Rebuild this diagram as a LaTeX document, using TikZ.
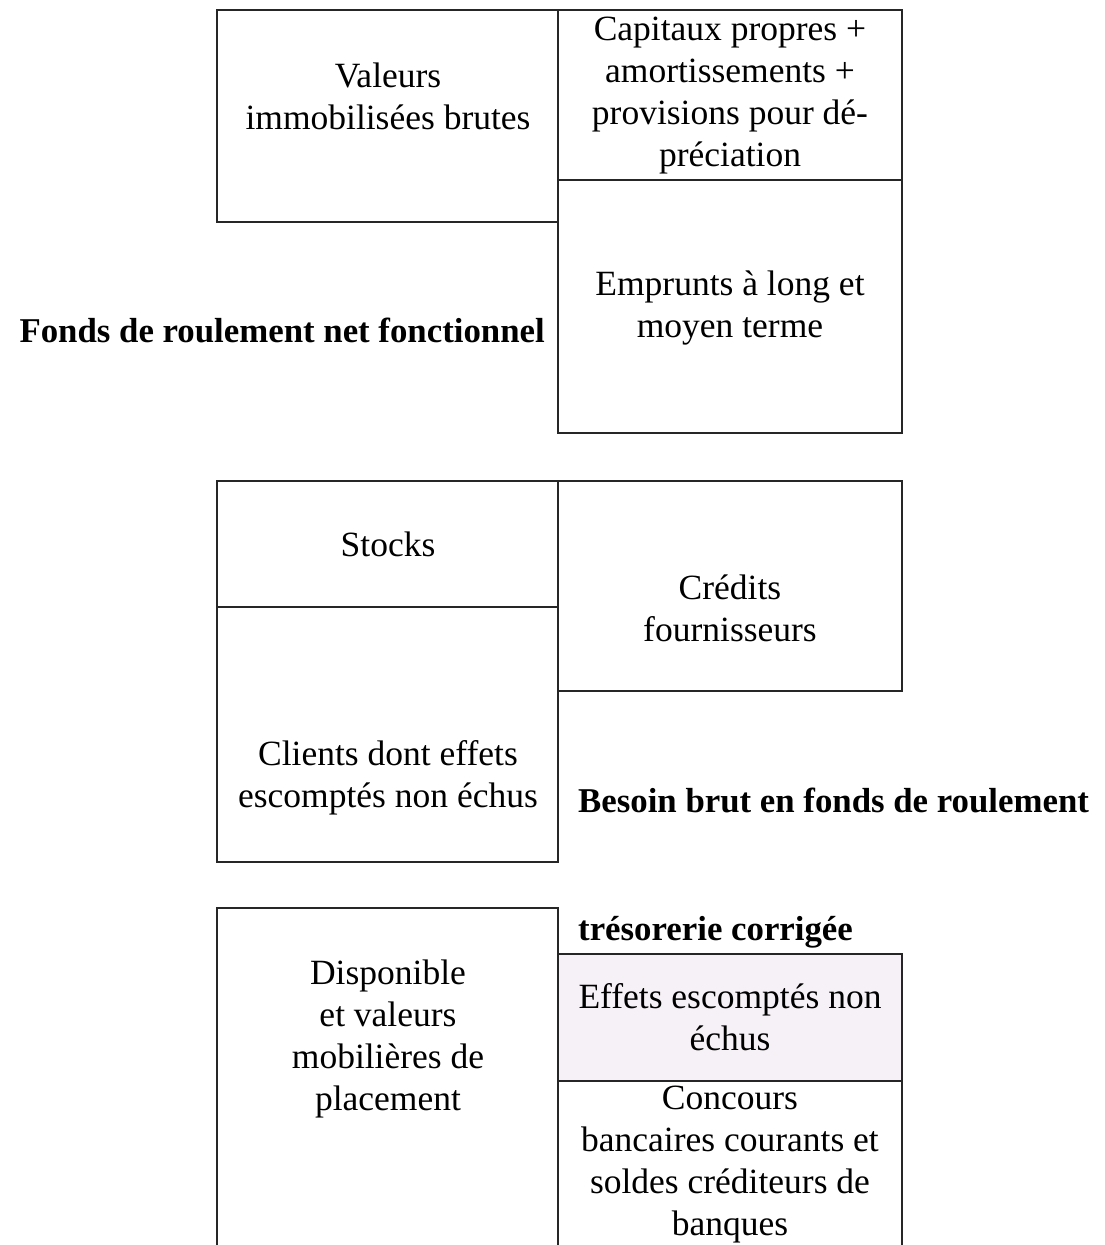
\documentclass[tikz,border=0pt]{standalone}
\usepackage{fontspec}
\setmainfont{Liberation Serif}
\usepackage{xcolor}
\usepackage{tikz}
\usetikzlibrary{positioning, calc}

\definecolor{ShadeFill}{HTML}{F6F1F6}

\begin{document}
\begin{tikzpicture}[x=1pt, y=-1pt,
				CellLine/.style={draw=black!85, line width=1.6pt},
				CellText/.style={align=center, inner sep=0pt, font=\fontsize{35.5}{42}\selectfont},
				SumText/.style={inner sep=0pt, font=\fontsize{34.8}{42}\selectfont\bfseries}]

			\useasboundingbox (0,0) rectangle (1105,1245);
			\clip (0,0) rectangle (1105,1245);

			% Boxes
			\draw[CellLine] (217,10) rectangle (558,222);
			\draw[CellLine] (558,10) rectangle (902,180);
			\draw[CellLine] (558,180) rectangle (902,433);

			\draw[CellLine] (217,481) rectangle (558,607);
			\draw[CellLine] (217,607) rectangle (558,862);
			\draw[CellLine] (558,481) rectangle (902,691);

			\draw[CellLine] (217,908) rectangle (558,1270);
			\draw[CellLine, fill=ShadeFill] (558,954) rectangle (902,1081);
			\draw[CellLine] (558,1081) rectangle (902,1270);

			% Nodes
			\node[CellText] (ValImmo) at (388,96) {Valeurs\\immobilisées brutes};
			\node[CellText] (CapPropres) at (730,96) {Capitaux propres +\\amortissements +\\provisions pour dé-\\préciation};
			\node[CellText] (Emprunts) at (730,308) {Emprunts à long et\\moyen terme};
			\node[SumText, anchor=east] (FRNF) at (545,330) {Fonds de roulement net fonctionnel};

			\node[CellText] (Stocks) at (388,544) {Stocks};
			\node[CellText] (Credits) at (730,608) {Crédits\\fournisseurs};
			\node[CellText] (Clients) at (388,778) {Clients dont effets\\escomptés non échus};
			\node[SumText, anchor=west] (BBFR) at (578,800) {Besoin brut en fonds de roulement};

			\node[CellText] (Dispo) at (388,1039) {Disponible\\et valeurs\\mobilières de\\placement};
			\node[SumText, anchor=west] (TresoCorr) at (578,932) {trésorerie corrigée};
			\node[CellText] (EffetsEsc) at (730,1017) {Effets escomptés non\\échus};
			\node[CellText] (Concours) at (730,1165) {Concours\\bancaires courants et\\soldes créditeurs de\\banques};
		\end{tikzpicture}
\end{document}
